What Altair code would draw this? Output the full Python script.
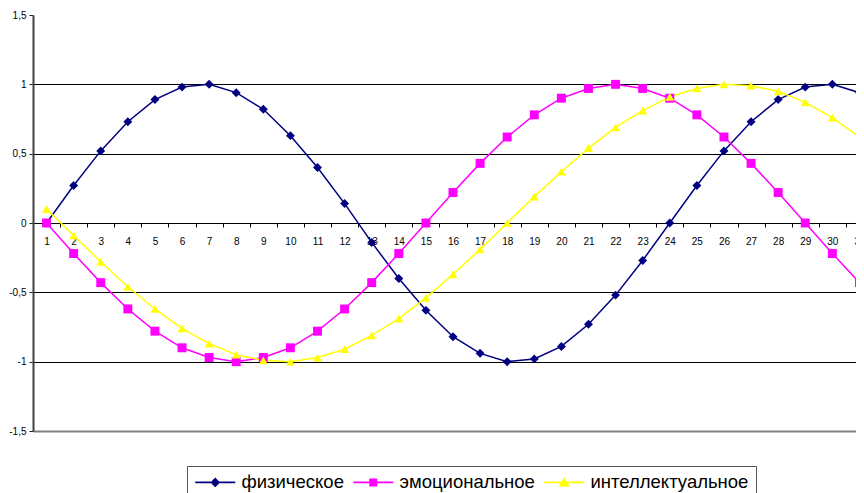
import altair as alt
import pandas as pd

days = list(range(1, 32))
series_names = ["физическое", "эмоциональное", "интеллектуальное"]
physical = [0.0, 0.27, 0.52, 0.73, 0.89, 0.98, 1.0, 0.94, 0.82, 0.63, 0.40, 0.14, -0.14, -0.40, -0.63,
            -0.82, -0.94, -1.0, -0.98, -0.89, -0.73, -0.52, -0.27, 0.0, 0.27, 0.52, 0.73, 0.89, 0.98, 1.0, 0.94]
emotional = [0.0, -0.22, -0.43, -0.62, -0.78, -0.90, -0.97, -1.0, -0.97, -0.90, -0.78, -0.62, -0.43, -0.22, 0.0,
             0.22, 0.43, 0.62, 0.78, 0.90, 0.97, 1.0, 0.97, 0.90, 0.78, 0.62, 0.43, 0.22, 0.0, -0.22, -0.43]
intellectual = [0.10, -0.09, -0.28, -0.46, -0.62, -0.76, -0.87, -0.95, -0.99, -1.0, -0.97, -0.91, -0.81, -0.69, -0.54,
                -0.37, -0.19, 0.0, 0.19, 0.37, 0.54, 0.69, 0.81, 0.91, 0.97, 1.0, 0.99, 0.95, 0.87, 0.76, 0.62]
y_ticks = [-1.5, -1, -0.5, 0, 0.5, 1, 1.5]

colors = ["#000080", "#FF00FF", "#FFFF00"]
plot_shapes = ["diamond", "square", "triangle-up"]
bar = "M-1,-0.1H4V0.1H-1Z "
legend_shapes = [
    bar + "M1.5,-0.6L2.1,0L1.5,0.6L0.9,0Z",
    bar + "M1,-0.5H2V0.5H1Z",
    bar + "M1.5,-0.65L2.2,0.5H0.8Z",
]

rows = []
for name, vals in zip(series_names, [physical, emotional, intellectual]):
    for d, v in zip(days, vals):
        rows.append({"day": d, "value": v, "series": name, "order": series_names.index(name)})
df = pd.DataFrame(rows)

FONT = "Liberation Sans"

x_enc = alt.X(
    "day:O",
    scale=alt.Scale(type="band", paddingInner=0, paddingOuter=0, range=[0, 840]),
    axis=alt.Axis(
        title=None, labelAngle=0, tickBand="extent", offset=-208,
        domainColor="black", domainWidth=1, tickColor="black", tickSize=4,
        labelPadding=9, labelFontSize=10, labelFont=FONT, labelColor="black", grid=False,
    ),
)
y_enc = alt.Y(
    "value:Q",
    scale=alt.Scale(domain=[-1.5, 1.5], nice=False, zero=False),
    axis=alt.Axis(
        values=y_ticks, title=None,
        labelExpr="replace(toString(datum.value), '.', ',')",
        domainColor="#404040", domainWidth=2, tickColor="#222222", tickSize=4,
        labelPadding=3, labelFontSize=10, labelFont=FONT, labelColor="black",
        gridColor={"condition": {"test": "datum.value == -1.5", "value": "#808080"}, "value": "black"},
        gridOpacity={"condition": {"test": "datum.value == 1.5", "value": 0}, "value": 1},
        gridWidth={"condition": {"test": "datum.value == -1.5", "value": 2}, "value": 1},
    ),
)

color_scale = alt.Scale(domain=series_names, range=colors)

base = alt.Chart(df)

lines = base.mark_line(strokeWidth=1.5).encode(
    x=x_enc, y=y_enc,
    color=alt.Color("series:N", scale=color_scale, legend=None),
    order="order:Q",
    detail="series:N",
)

points = base.mark_point(filled=True, opacity=1, size=80).encode(
    x=x_enc, y=y_enc,
    color=alt.Color("series:N", scale=color_scale, legend=None),
    shape=alt.Shape("series:N", scale=alt.Scale(domain=series_names, range=plot_shapes), legend=None),
    order="order:Q",
)

leg = alt.Legend(
    title=None, orient="none", legendX=154, legendY=451, direction="horizontal",
    padding=7, strokeColor="#555555", fillColor="white", cornerRadius=0,
    labelFont=FONT, labelFontSize=18.5, labelColor="black", labelLimit=400,
    symbolSize=256, labelOffset=29, columnPadding=8, symbolStrokeWidth=0, symbolOpacity=1,
)

legend_layer = base.transform_filter("false").mark_point(filled=True, opacity=1).encode(
    color=alt.Color("series:N", scale=alt.Scale(domain=series_names, range=colors), legend=leg),
    shape=alt.Shape("series:N", scale=alt.Scale(domain=series_names, range=legend_shapes), legend=leg),
)

chart = alt.layer(lines, points, legend_layer).resolve_scale(
    color="independent", shape="independent"
).properties(
    width=823, height=416,
    autosize=alt.AutoSizeParams(type="none"),
    padding={"left": 25, "top": 7, "right": 0, "bottom": 70},
    background="white",
).configure_view(fill="#C0C0C0", stroke=None)

chart.save("out.html", embed_options={"renderer": "svg", "actions": False})
